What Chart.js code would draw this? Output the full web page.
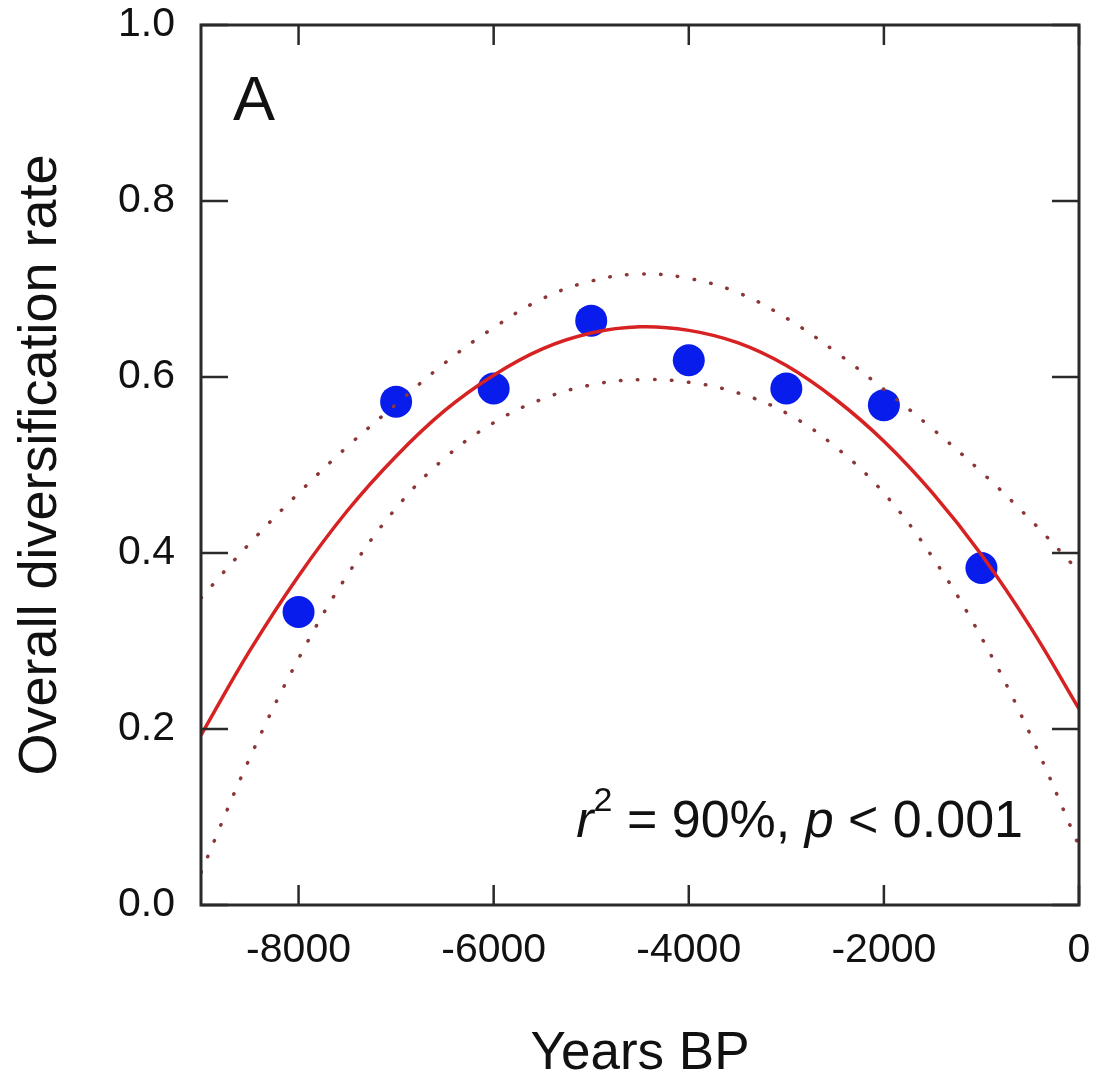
<!DOCTYPE html>
<html><head><meta charset="utf-8">
<script src="https://cdn.jsdelivr.net/npm/chart.js@4.4.1/dist/chart.umd.min.js"></script>
<style>html,body{margin:0;padding:0;background:#fff}canvas{display:block}</style>
</head><body>
<canvas id="c" width="1119" height="1078"></canvas>
<script>
// Observed points
const yearsObs = [-8000, -7000, -6000, -5000, -4000, -3000, -2000, -1000];
const rateObs  = [0.333, 0.572, 0.587, 0.664, 0.619, 0.587, 0.568, 0.383];
// Fitted curve and confidence band, every 500 years
const yearsFit  = [-9000,-8500,-8000,-7500,-7000,-6500,-6000,-5500,-5000,-4500,-4000,-3500,-3000,-2500,-2000,-1500,-1000,-500,0];
const rateFit   = [0.193,0.289,0.374,0.448,0.510,0.562,0.602,0.632,0.650,0.657,0.653,0.639,0.613,0.575,0.527,0.468,0.398,0.316,0.223];
const rateUpper = [0.349,0.411,0.468,0.521,0.569,0.616,0.656,0.689,0.709,0.717,0.712,0.696,0.667,0.629,0.586,0.541,0.492,0.438,0.379];
const rateLower = [0.037,0.167,0.280,0.375,0.451,0.508,0.548,0.575,0.591,0.597,0.594,0.582,0.559,0.521,0.468,0.395,0.304,0.194,0.067];
// Ticks and texts
const xTickValues = [-8000, -6000, -4000, -2000, 0];
const yTickValues = [0, 0.2, 0.4, 0.6, 0.8, 1.0];
const xTitle = 'Years BP';
const yTitle = 'Overall diversification rate';
const panelLabel = 'A';
const statParts = [
  {t: 'r', italic: true, sup: false},
  {t: '2', italic: false, sup: true},
  {t: ' = 90%, ', italic: false, sup: false},
  {t: 'p', italic: true, sup: false},
  {t: ' < 0.001', italic: false, sup: false}
];

const FAM = '"Liberation Sans", Arial, Helvetica, sans-serif';
const BLUE = 'rgb(8,28,235)';
const RED = 'rgb(214,34,34)';
const DOT = 'rgb(140,55,55)';

const framePlugin = {
  id: 'frame',
  afterDatasetsDraw(chart) {
    const {ctx, chartArea: a, scales: {x, y}} = chart;
    ctx.save();
    ctx.strokeStyle = '#2a2a2a';
    ctx.lineWidth = 3;
    ctx.strokeRect(a.left, a.top, a.right - a.left, a.bottom - a.top);
    ctx.lineWidth = 2.5;
    ctx.beginPath();
    xTickValues.forEach(v => {
      const px = x.getPixelForValue(v);
      ctx.moveTo(px, a.bottom); ctx.lineTo(px, a.bottom - 20);
      ctx.moveTo(px, a.top); ctx.lineTo(px, a.top + 20);
    });
    yTickValues.forEach(v => {
      const py = y.getPixelForValue(v);
      ctx.moveTo(a.left, py); ctx.lineTo(a.left + 27, py);
      ctx.moveTo(a.right, py); ctx.lineTo(a.right - 27, py);
    });
    ctx.stroke();

    // Panel label
    ctx.fillStyle = '#111';
    ctx.textBaseline = 'alphabetic';
    ctx.textAlign = 'left';
    ctx.font = '63px ' + FAM;
    ctx.fillText(panelLabel, a.left + 32, a.top + 95);

    // Statistics text, right aligned
    const fontFor = p => (p.italic ? 'italic ' : '') + (p.sup ? '34px ' : '52px ') + FAM;
    let total = 0;
    const widths = statParts.map(p => { ctx.font = fontFor(p); const w = ctx.measureText(p.t).width; total += w; return w; });
    let cx = a.right - 56 - total;
    const base = a.bottom - 68;
    statParts.forEach((p, i) => {
      ctx.font = fontFor(p);
      ctx.fillText(p.t, cx, p.sup ? base - 26 : base);
      cx += widths[i];
    });
    ctx.restore();
  }
};

const pts = (xs, ys) => xs.map((v, i) => ({x: v, y: ys[i]}));

new Chart(document.getElementById('c'), {
  type: 'scatter',
  data: {
    datasets: [
      {label: 'fit', data: pts(yearsFit, rateFit), showLine: true, borderColor: RED, borderWidth: 3.5,
       pointRadius: 0, tension: 0.4, fill: false, order: 0},
      {label: 'upper', data: pts(yearsFit, rateUpper), showLine: true, borderColor: DOT, borderWidth: 3.5,
       borderDash: [0.5, 16.5], borderCapStyle: 'round', pointRadius: 0, tension: 0.4, fill: false, order: 0},
      {label: 'lower', data: pts(yearsFit, rateLower), showLine: true, borderColor: DOT, borderWidth: 3.5,
       borderDash: [0.5, 16.5], borderCapStyle: 'round', pointRadius: 0, tension: 0.4, fill: false, order: 0},
      {label: 'observed', data: pts(yearsObs, rateObs), backgroundColor: BLUE, borderColor: BLUE,
       borderWidth: 0, pointRadius: 16, pointHoverRadius: 16, order: 1}
    ]
  },
  options: {
    responsive: false,
    devicePixelRatio: 1,
    animation: false,
    events: [],
    layout: {padding: {top: 0, right: 40, left: 0, bottom: 0}},
    plugins: {legend: {display: false}, tooltip: {enabled: false}},
    scales: {
      x: {
        type: 'linear', min: -9000, max: 0,
        afterBuildTicks: s => { s.ticks = xTickValues.map(v => ({value: v})); },
        afterFit: s => { s.height = 173; },
        grid: {display: false, drawTicks: false},
        border: {display: false},
        ticks: {autoSkip: false, maxRotation: 0, padding: 21, color: '#111',
                font: {family: FAM, size: 41}, callback: v => String(v)},
        title: {display: true, text: xTitle, color: '#111', padding: 0,
                font: {family: FAM, size: 53, lineHeight: 0.9}}
      },
      y: {
        type: 'linear', min: 0, max: 1,
        afterBuildTicks: s => { s.ticks = yTickValues.map(v => ({value: v})); },
        afterFit: s => { s.width = 201; s.paddingTop = 25; s.paddingBottom = 0; },
        grid: {display: false, drawTicks: false},
        border: {display: false},
        ticks: {autoSkip: false, padding: 26, color: '#111',
                font: {family: FAM, size: 41}, callback: v => Number(v).toFixed(1)},
        title: {display: true, text: yTitle, color: '#111', padding: {top: 14, bottom: 0},
                font: {family: FAM, size: 54, lineHeight: 1}}
      }
    }
  },
  plugins: [framePlugin]
});
</script>
</body></html>
